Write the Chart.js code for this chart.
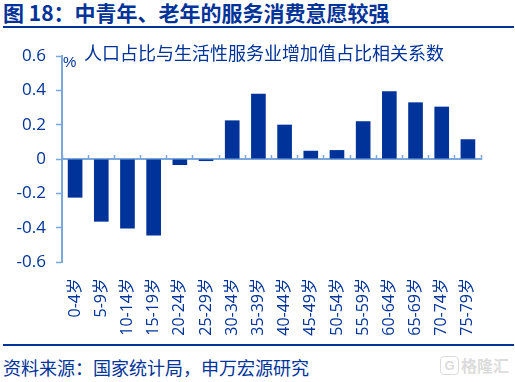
<!DOCTYPE html>
<html><head><meta charset="utf-8">
<script src="https://cdn.jsdelivr.net/npm/chart.js@4"></script>
<style>
html,body{margin:0;padding:0;background:#fff;width:515px;height:382px;overflow:hidden;font-family:"Noto Sans CJK SC",sans-serif}
.t{position:absolute;white-space:nowrap;color:#003399}
#c{position:absolute;left:0;top:0}
</style></head><body>
<div class="t" style="left:3px;top:-2px;font-size:21px;line-height:28px;font-weight:700;">图 18：中青年、老年的服务消费意愿较强</div>
<div style="position:absolute;left:3px;top:26px;width:511px;height:2px;background:#003399"></div>
<div style="position:absolute;left:3px;top:344px;width:511px;height:2px;background:#003399"></div>
<div class="t" style="left:3px;top:356px;font-size:18px;line-height:22px">资料来源：国家统计局，申万宏源研究</div>
<div style="position:absolute;left:440px;top:356px;width:17px;height:17px;border:1.5px solid #dcdcdc;border-radius:4px;font:700 13px/17px 'Liberation Sans';color:#dcdcdc;text-align:center">G</div>
<div style="position:absolute;left:461px;top:355px;font-size:16px;line-height:20px;color:#dcdcdc;font-weight:700">格隆汇</div>
<div id="c"><canvas id="chart" width="515" height="340"></canvas></div>
<div class="t" style="left:84px;top:39px;font-size:18px;line-height:26px">人口占比与生活性服务业增加值占比相关系数</div>
<div class="t" style="left:63px;top:52px;font-size:15px;line-height:20px;font-family:'Liberation Sans'">%</div>
<script>
const categories=["0-4岁","5-9岁","10-14岁","15-19岁","20-24岁","25-29岁","30-34岁","35-39岁","40-44岁","45-49岁","50-54岁","55-59岁","60-64岁","65-69岁","70-74岁","75-79岁"];
const values=[-0.225,-0.365,-0.405,-0.445,-0.035,-0.012,0.225,0.38,0.2,0.048,0.052,0.22,0.395,0.33,0.305,0.115];
const tickValues=[0.6,0.4,0.2,0,-0.2,-0.4,-0.6];
const axisBlue='#7aa7dc', ink='#003399';
new Chart(document.getElementById('chart'),{
 type:'bar',
 data:{labels:categories,datasets:[{data:values,backgroundColor:ink,borderWidth:0,barPercentage:0.56,categoryPercentage:1}]},
 options:{responsive:false,animation:false,
  layout:{padding:{left:0,right:34,top:56,bottom:0}},
  plugins:{legend:{display:false},tooltip:{enabled:false}},
  scales:{
   x:{grid:{display:false},border:{display:false},afterFit(a){a.height=78},
      ticks:{maxRotation:90,minRotation:90,autoSkip:false,color:ink,padding:8,font:{size:16,family:'"Open Sans","Noto Sans CJK SC"'}}},
   x2:{axis:'x',type:'category',labels:categories,position:{y:0},offset:true,
      border:{color:axisBlue,width:2},
      grid:{offset:true,drawOnChartArea:false,tickLength:-5,tickColor:axisBlue,tickWidth:1.5},
      ticks:{display:false}},
   y:{min:-0.6,max:0.6,afterBuildTicks(a){a.ticks=tickValues.map(v=>({value:v}))},afterFit(a){a.width=62},
      border:{color:axisBlue,width:2},
      grid:{drawOnChartArea:false,tickLength:6,tickColor:axisBlue,tickWidth:1.5},
      ticks:{color:ink,padding:10,font:{size:17,family:'"Open Sans"'},callback:v=>v===0?'0':v.toFixed(1)}}
  }
 }
});
</script></body></html>
